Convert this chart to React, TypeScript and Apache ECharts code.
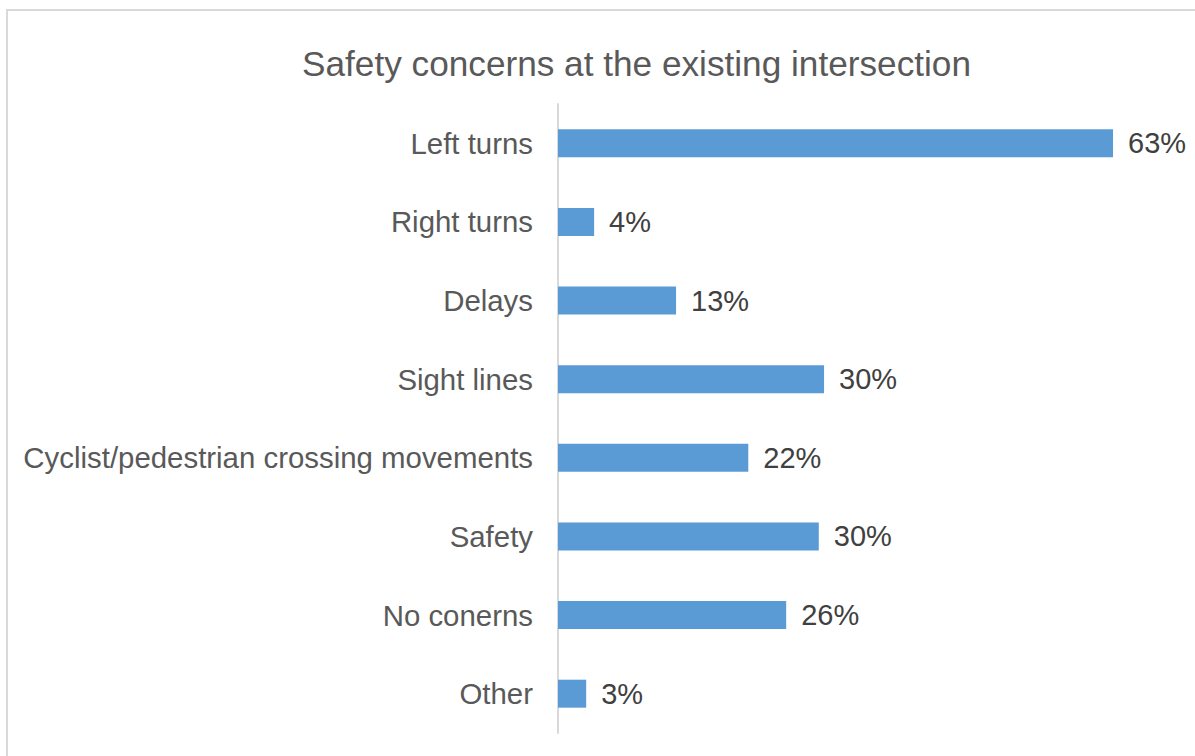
import React, { useEffect, useRef } from "react";
import * as echarts from "echarts";

const categories = [
  "Left turns",
  "Right turns",
  "Delays",
  "Sight lines",
  "Cyclist/pedestrian crossing movements",
  "Safety",
  "No conerns",
  "Other",
];
const values = [0.63, 0.041, 0.134, 0.302, 0.216, 0.296, 0.259, 0.032];
const title = "Safety concerns at the existing intersection";

export default function App() {
  const ref = useRef<HTMLDivElement>(null);
  useEffect(() => {
    if (!ref.current) return;
    const chart = echarts.init(ref.current, null, { renderer: "svg" });
    const font = "Liberation Sans, Arial, sans-serif";
    chart.setOption({
      animation: false,
      backgroundColor: "#ffffff",
      title: {
        text: title,
        left: 631.5,
        top: 58,
        textAlign: "center",
        textVerticalAlign: "middle",
        textStyle: { fontFamily: font, fontSize: 35.2, fontWeight: "normal", color: "#595959" },
      },
      graphic: [
        {
          type: "rect",
          shape: { x: 7, y: 10, width: 1200, height: 760 },
          style: { fill: "none", stroke: "#D9D9D9", lineWidth: 2 },
          silent: true,
        },
      ],
      grid: { left: 558, top: 104, bottom: 23, right: 20.3, containLabel: false },
      xAxis: { type: "value", min: 0, max: 0.7, show: false },
      yAxis: {
        type: "category",
        data: categories,
        inverse: true,
        axisLine: { show: true, lineStyle: { color: "#D9D9D9", width: 2 } },
        axisTick: { show: false },
        axisLabel: { margin: 25, fontFamily: font, fontSize: 29.4, color: "#595959" },
      },
      series: [
        {
          type: "bar",
          data: values,
          barWidth: 28,
          itemStyle: { color: "#5B9BD5" },
          label: {
            show: true,
            position: "right",
            distance: 15,
            fontFamily: font,
            fontSize: 29,
            color: "#404040",
            formatter: (p: any) => Math.round(p.value * 100) + "%",
          },
        },
      ],
    });
    return () => chart.dispose();
  }, []);
  return (
    <div
      ref={ref}
      style={{ position: "absolute", left: 0, top: 0, width: 1195, height: 756 }}
    />
  );
}
